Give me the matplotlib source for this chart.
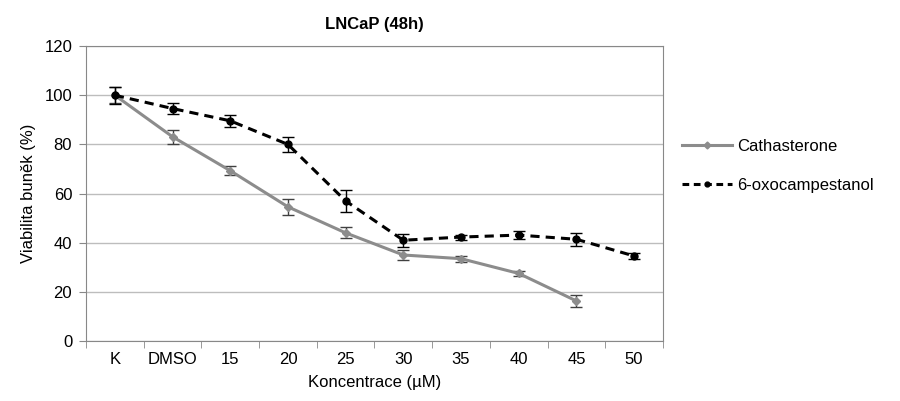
import matplotlib
matplotlib.use("Agg")
import matplotlib.pyplot as plt
from matplotlib.lines import Line2D
import numpy as np

plt.rcParams['font.family'] = ['Liberation Sans', 'DejaVu Sans']

categories = ["K", "DMSO", "15", "20", "25", "30", "35", "40", "45", "50"]

cath_vals = [100, 83.1, 69.3, 54.6, 44.0, 35.0, 33.5, 27.5, 16.3]
cath_err = [3.3, 2.8, 1.9, 3.3, 2.2, 2.0, 1.2, 1.0, 2.4]

oxo_vals = [100, 94.6, 89.6, 80.0, 57.0, 41.0, 42.3, 43.1, 41.4, 34.6]
oxo_err = [3.5, 2.3, 2.4, 3.0, 4.5, 2.7, 1.0, 1.6, 2.7, 1.2]

fig = plt.figure(figsize=(9, 4.01), dpi=100)
ax = fig.add_axes([0.0956, 0.1496, 0.641, 0.7354])

x = np.arange(len(categories))
cath_color = "#8c8c8c"

ax.errorbar(x[:len(cath_vals)], cath_vals, yerr=cath_err, color=cath_color,
            lw=2.2, marker="D", ms=4, mec=cath_color, ecolor="#404040",
            elinewidth=1, capsize=4, capthick=1, zorder=3)
ax.errorbar(x, oxo_vals, yerr=oxo_err, color="black", lw=2.2, ls=(0, (3, 2)),
            marker="o", ms=5, ecolor="black", elinewidth=1, capsize=4,
            capthick=1, zorder=4)

ax.set_xlim(-0.5, len(categories) - 0.5)
ax.set_ylim(0, 120)
ax.set_yticks(np.arange(0, 121, 20))
ax.set_xticks(x)
ax.set_xticklabels(categories)
ax.set_xticks(np.arange(-0.5, len(categories), 1), minor=True)
ax.tick_params(axis="x", which="major", length=0, pad=8)
ax.tick_params(axis="x", which="minor", length=5, direction="out", color="#888888")
ax.tick_params(axis="y", length=5, direction="out", color="#888888", pad=5)
ax.tick_params(labelsize=12)

ax.grid(axis="y", color="#bdbdbd", lw=1)
ax.set_axisbelow(True)
for s in ax.spines.values():
    s.set_color("#888888")

ax.set_title("LNCaP (48h)", fontsize=12, fontweight="bold", pad=12)
ax.set_xlabel("Koncentrace (µM)", fontsize=12, labelpad=6)
ax.set_ylabel("Viabilita buněk (%)", fontsize=12, labelpad=6)

handles = [
    Line2D([], [], color=cath_color, lw=2.2, marker="D", ms=3.5),
    Line2D([], [], color="black", lw=2.2, ls=(0, (2.2, 1.5)), marker="o", ms=3.5),
]
ax.legend(handles, ["Cathasterone", "6-oxocampestanol"], loc="center left",
          bbox_to_anchor=(1.022, 0.593), frameon=False, fontsize=12,
          handlelength=3.0, labelspacing=1.45, handletextpad=0.3, borderaxespad=0)

fig.savefig("out.png", dpi=100)
